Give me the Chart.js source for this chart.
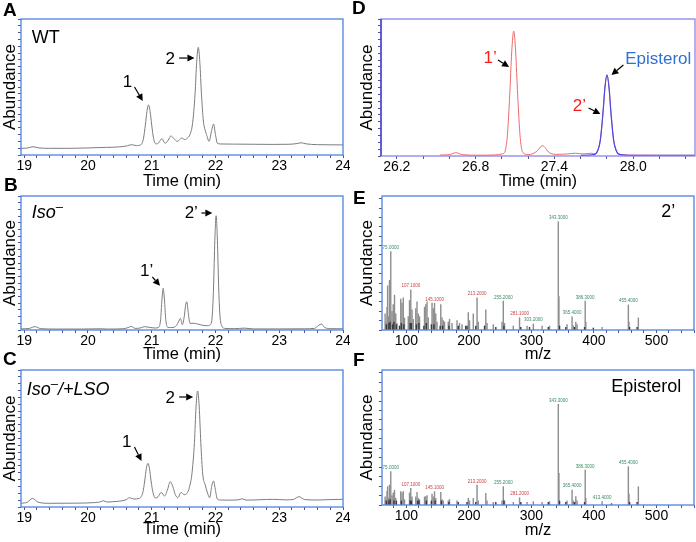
<!DOCTYPE html>
<html><head><meta charset="utf-8">
<script src="https://cdn.jsdelivr.net/npm/chart.js@4.4.1/dist/chart.umd.min.js"></script>
<style>
body{margin:0;width:696px;height:542px;background:#fff;position:relative;overflow:hidden}
canvas{position:absolute}
</style></head><body>
<canvas id="cA" style="left:0;top:0" width="350" height="191"></canvas>
<canvas id="cB" style="left:0;top:177px" width="350" height="187"></canvas>
<canvas id="cC" style="left:0;top:352px" width="350" height="187"></canvas>
<canvas id="cD" style="left:350px;top:0" width="346" height="191"></canvas>
<canvas id="cE" style="left:350px;top:177px" width="346" height="187"></canvas>
<canvas id="cF" style="left:350px;top:352px" width="346" height="188"></canvas>
<script>
// chromatograms: [time (min), abundance]
const traceA = [[18.95,4.9],[19.05,5.1],[19.14,6.1],[19.23,5.2],[19.4,4.9],[19.66,4.9],[20.0,5.2],[20.29,5.6],[20.5,6.0],[20.62,6.8],[20.68,7.6],[20.76,6.9],[20.83,7.5],[20.87,12],[20.9,22],[20.925,32],[20.95,36.8],[20.975,32],[21.0,22],[21.03,12],[21.07,8.1],[21.11,9],[21.16,12],[21.21,8.6],[21.26,11],[21.3,14],[21.35,12],[21.4,10],[21.47,12.5],[21.52,11.3],[21.56,12.5],[21.6,15],[21.64,23],[21.68,45],[21.705,68],[21.73,79.2],[21.755,68],[21.78,45],[21.81,25],[21.83,19.6],[21.86,15],[21.9,10],[21.935,17],[21.97,22.8],[22.0,15],[22.03,8.6],[22.08,8.1],[22.3,8.0],[22.6,7.9],[22.9,7.8],[23.15,7.9],[23.28,8.4],[23.34,9],[23.42,8.2],[23.6,7.6],[23.8,7.5],[24.0,7.4]];
const traceB = [[18.95,0.8],[19.08,1.2],[19.17,2.5],[19.26,1.0],[19.5,0.7],[19.9,0.7],[20.2,0.9],[20.3,0.7],[20.55,0.9],[20.63,1.8],[20.68,2.7],[20.74,1.2],[20.82,1.5],[20.89,2.5],[20.96,2.0],[21.05,1.5],[21.11,2.0],[21.14,8],[21.16,22.4],[21.18,31.1],[21.2,22.4],[21.22,8],[21.25,2.0],[21.3,1.8],[21.37,2.5],[21.42,6],[21.45,8.7],[21.48,4],[21.51,10],[21.53,18],[21.55,21.1],[21.575,12],[21.6,5],[21.65,5],[21.72,4.5],[21.8,3.5],[21.87,3.2],[21.92,4],[21.95,11],[21.97,32],[21.99,67],[22.01,85.3],[22.03,67],[22.05,32],[22.07,11],[22.1,3],[22.15,1.2],[22.3,1.0],[22.45,1.4],[22.6,0.8],[23.0,0.8],[23.4,0.9],[23.55,1.2],[23.62,3.5],[23.66,4.5],[23.71,2],[23.8,1.0],[24.0,0.9]];
const traceC = [[18.95,2.7],[19.05,3.5],[19.13,6.3],[19.22,3.5],[19.4,2.7],[19.8,2.8],[20.1,3.2],[20.2,3.8],[20.24,4.6],[20.3,3.6],[20.39,3.9],[20.5,4.3],[20.6,5.3],[20.65,6.8],[20.72,5.8],[20.8,6.2],[20.86,10.5],[20.89,19],[20.915,28],[20.94,31.9],[20.965,28],[20.99,19],[21.02,10.5],[21.06,6.5],[21.1,7.5],[21.15,10.7],[21.2,8],[21.25,13],[21.29,18.5],[21.33,15],[21.37,9],[21.41,6.8],[21.46,10.7],[21.51,9],[21.56,10.5],[21.6,16],[21.63,24],[21.67,47],[21.695,73],[21.72,84.7],[21.745,73],[21.77,47],[21.8,24],[21.84,16],[21.87,11],[21.91,6.8],[21.94,15],[21.97,19],[22.0,12],[22.03,5.8],[22.08,5.1],[22.2,5.0],[22.35,5.2],[22.42,6],[22.48,5.0],[22.7,5.3],[22.9,5.6],[23.1,5.2],[23.22,5.5],[23.31,7.5],[23.4,5.4],[23.6,5.1],[23.8,5.4],[24.0,5.6]];
const traceD = [[26.53,0.7],[26.6,1.0],[26.65,2.4],[26.7,1.0],[26.8,0.6],[26.95,0.8],[27.0,1.5],[27.02,2.5],[27.04,13],[27.06,45],[27.075,76],[27.09,91.2],[27.105,76],[27.12,45],[27.14,13],[27.16,2.5],[27.2,1.0],[27.26,3],[27.31,7.5],[27.36,2.5],[27.42,1.2],[27.5,1.5],[27.56,2.0],[27.62,1.5],[27.68,2.0],[27.71,1.5],[27.73,4],[27.75,12],[27.77,32],[27.785,50.6],[27.8,59.1],[27.815,50.6],[27.83,32],[27.85,12],[27.87,4],[27.9,1.2],[28.0,0.6],[28.2,0.5],[28.47,0.5]];
const traceEpi = [[27.6,0.5],[27.7,1],[27.73,4],[27.75,12],[27.77,32],[27.785,50.6],[27.8,59.3],[27.815,50.6],[27.83,32],[27.85,12],[27.87,4],[27.9,1],[28.0,0.5],[28.47,0.5]];

// mass spectra: [m/z, abundance]
const spec2p = [[66,12],[67,6],[69,17],[70,33],[71,10],[73,37],[75,58.5],[77,14],[79,19],[81,26],[82,8],[83,12],[85,5],[91,23],[93,20],[95,24],[97,9],[103,10],[105,22],[107,30],[109,15],[111,8],[115,16],[117,21],[119,12],[121,10],[129,17],[131,19],[133,21],[135,9],[141,20],[143,16],[145,20],[147,12],[149,6],[155,19],[157,9],[159,7],[161,6],[167,6],[169,8],[173,5],[181,7],[185,5],[189,4],[199,13],[201,7],[207,12],[213,24],[215,6],[227,15],[229,5],[239,4],[253,6],[255,21.6],[257,5],[271,3],[281,9.2],[293,3],[303,4.5],[317,3],[329,3],[343,80.8],[344,25],[357,4],[365,9.9],[367,3],[371,6],[373,4],[386,21.6],[387,6],[413,2],[455,18.7],[456,6],[471,9]];
const spec2pMinor = [[68,4],[72,5],[74,6],[78,4],[80,6],[84,4],[89,3],[92,5],[96,4],[106,5],[108,5],[116,4],[120,5],[128,3],[132,5],[140,4],[144,4],[154,3],[158,3],[168,3],[183,3],[195,3],[197,3],[211,3],[225,3],[243,2],[256,3],[283,2],[297,2],[327,2],[345,3],[355,2],[369,2],[385,2],[399,1.5],[457,2],[469,2]];
const specEpi = [[66,6],[67,4],[69,10],[70,13.6],[71,5],[73,14.8],[75,24.7],[77,7],[79,9],[81,11],[83,5],[91,10],[93,9],[95,10],[97,4],[105,9],[107,12.3],[109,6],[115,6],[117,9.3],[119,5],[121,4],[129,6],[131,6.3],[133,7],[141,8],[143,6],[145,9.9],[147,5],[155,9.3],[157,4],[159,3],[167,3],[169,4],[181,3],[199,5],[201,3],[207,5],[213,14.8],[215,3],[227,8.6],[229,3],[239,2],[253,3],[255,13.6],[257,3],[271,2],[281,5.4],[293,2],[303,2.5],[317,2],[329,2.5],[343,74.6],[344,23.5],[357,3],[365,11.1],[367,3],[371,6.3],[373,3],[386,25.9],[387,5],[413,2.5],[455,28.4],[456,8],[471,13.6]];
const specEpiMinor = [[68,3],[72,3],[74,4],[80,3],[84,3],[92,3],[106,3],[108,3],[118,3],[120,3],[132,3],[140,3],[146,3],[156,3],[168,2],[183,2],[197,2],[211,2],[243,2],[256,3],[283,2],[327,2],[345,3],[355,2],[369,2],[385,2],[428,1],[457,2],[469,2]];

// peak labels: [m/z, text, colour]
const peaks2p = [[75,'75.0000','#3c8c64'],[107,'107.1000','#c84646'],[145,'145.1000','#c84646'],[213,'213.2000','#c84646'],[255,'255.2000','#3c8c64'],[281,'281.1000','#c84646'],[303,'303.2000','#3c8c64'],[343,'343.3000','#3c8c64'],[365,'365.4000','#3c8c64'],[386,'386.3000','#3c8c64'],[455,'455.4000','#3c8c64']];
const peaksEpi = [[75,'75.0000','#3c8c64'],[107,'107.1000','#c84646'],[145,'145.1000','#c84646'],[213,'213.2000','#c84646'],[255,'255.2000','#3c8c64'],[281,'281.2000','#c84646'],[343,'343.3000','#3c8c64'],[365,'365.4000','#3c8c64'],[386,'386.3000','#3c8c64'],[413,'413.4000','#3c8c64'],[455,'455.4000','#3c8c64']];

const timeTicks = [19, 20, 21, 22, 23, 24];
const timeTicksD = [26.2, 26.8, 27.4, 28.0];
const mzTicks = [100, 200, 300, 400, 500];

const FONT = "'Liberation Sans', Arial, sans-serif";
Chart.defaults.font.family = FONT;
Chart.defaults.color = '#000';

function arrow(ctx, x1, y1, x2, y2, col) {
  const a = Math.atan2(y2 - y1, x2 - x1), L = 7, W = 3.5;
  ctx.strokeStyle = col; ctx.fillStyle = col; ctx.lineWidth = 1.2;
  ctx.beginPath(); ctx.moveTo(x1, y1);
  ctx.lineTo(x2 - L * Math.cos(a), y2 - L * Math.sin(a)); ctx.stroke();
  ctx.beginPath(); ctx.moveTo(x2, y2);
  ctx.lineTo(x2 - L * Math.cos(a) + W * Math.sin(a), y2 - L * Math.sin(a) - W * Math.cos(a));
  ctx.lineTo(x2 - L * Math.cos(a) - W * Math.sin(a), y2 - L * Math.sin(a) + W * Math.cos(a));
  ctx.closePath(); ctx.fill();
}

const deco = {
  id: 'deco',
  afterDatasetsDraw(chart, args, o) {
    const {ctx, chartArea: a, scales: {x, y}} = chart;
    ctx.save();
    // peak labels over the spectrum sticks
    ctx.font = '4.5px ' + FONT; ctx.textAlign = 'center'; ctx.textBaseline = 'bottom';
    (o.peaks || []).forEach(p => {
      const v = o.spec.find(s => s[0] === p[0])[1];
      ctx.fillStyle = p[2];
      ctx.fillText(p[1], x.getPixelForValue(p[0]), y.getPixelForValue(v) - 1.5);
    });
    // frame
    ctx.lineWidth = 1.3;
    ctx.strokeStyle = o.box;
    ctx.strokeRect(a.left, a.top, a.right - a.left, a.bottom - a.top);
    if (o.leftCol) {
      ctx.strokeStyle = o.leftCol;
      ctx.beginPath(); ctx.moveTo(a.left, a.top); ctx.lineTo(a.left, a.bottom); ctx.stroke();
    }
    // texts (parts drawn left to right)
    (o.texts || []).forEach(t => {
      let px = x.getPixelForValue(t.x), py = y.getPixelForValue(t.y);
      ctx.fillStyle = t.color || '#000'; ctx.textBaseline = 'middle';
      if (t.align === 'center') {
        ctx.font = t.parts[0][1]; ctx.textAlign = 'center';
        ctx.fillText(t.parts[0][0], px, py);
        return;
      }
      ctx.textAlign = 'left';
      t.parts.forEach(p => {
        ctx.font = p[1];
        ctx.fillText(p[0], px, py + (p[2] || 0));
        px += ctx.measureText(p[0]).width;
      });
    });
    (o.arrows || []).forEach(r => arrow(ctx, x.getPixelForValue(r[0]), y.getPixelForValue(r[1]),
      x.getPixelForValue(r[2]), y.getPixelForValue(r[3]), '#000'));
    // panel letter
    ctx.font = 'bold 19px ' + FONT; ctx.textAlign = 'left'; ctx.textBaseline = 'middle'; ctx.fillStyle = '#000';
    ctx.fillText(o.letter[0], o.letter[1], o.letter[2]);
    ctx.restore();
  }
};

function makeChart(id, c) {
  const minor = [];
  const start = Math.ceil(c.xMin / c.minor - 1e-9);
  for (let i = start; i * c.minor <= c.xMax + 1e-9; i++) minor.push(+(i * c.minor).toFixed(4));
  const yt = [];
  for (let v = 0; v <= 100; v += c.yStep) yt.push(v);
  const axisCol = '#4a5590';
  return new Chart(document.getElementById(id), {
    type: c.type,
    data: {datasets: c.datasets},
    options: {
      responsive: false, animation: false, devicePixelRatio: 1,
      layout: {padding: c.pad},
      plugins: {legend: {display: false}, tooltip: {enabled: false}, deco: c.deco},
      scales: {
        x: {
          type: 'linear', min: c.xMin, max: c.xMax, offset: false,
          afterBuildTicks: ax => { ax.ticks = minor.map(v => ({value: v})); },
          ticks: {autoSkip: false, maxRotation: 0, padding: 0, font: {size: 14}, color: '#000',
            callback: v => c.xTicks.some(t => Math.abs(t - v) < 1e-6) ? c.fmt(v) : ''},
          grid: {drawOnChartArea: false, tickLength: 3, color: axisCol, offset: false},
          border: {display: false},
          title: {display: true, text: c.xTitle, font: {size: 16.5}, padding: 0, color: '#000'},
          afterFit: s => { s.height = c.xH; s.paddingLeft = 0; s.paddingRight = 0; }
        },
        y: {
          min: 0, max: 100,
          afterBuildTicks: ax => { ax.ticks = yt.map(v => ({value: v})); },
          ticks: {display: false},
          grid: {drawOnChartArea: false, tickLength: 3, color: axisCol},
          border: {display: false},
          title: {display: true, text: 'Abundance', font: {size: 17}, padding: 0, color: '#000'},
          afterFit: s => { s.width = c.yW; s.paddingTop = 0; s.paddingBottom = 0; }
        }
      }
    },
    plugins: [deco]
  });
}

const line = (tr, col, w) => ({data: tr.map(p => ({x: p[0], y: p[1]})), borderColor: col, borderWidth: w || 1,
  pointRadius: 0, fill: false, cubicInterpolationMode: 'monotone'});
const bars = (sp, col) => ({data: sp.map(p => ({x: p[0], y: p[1]})), backgroundColor: col, barThickness: 0.75, grouped: false});

const F18 = '18px ' + FONT, I18 = 'italic 18px ' + FONT, F17 = '17px ' + FONT, SUP = '13px ' + FONT;
const blueBox = '#4f82e2';

const chromBase = {type: 'line', xMin: 18.95, xMax: 24.0, xTicks: timeTicks, minor: 0.2, fmt: v => String(v),
  xTitle: 'Time (min)', yStep: 5, yW: 21};

makeChart('cA', Object.assign({}, chromBase, {
  datasets: [line(traceA, '#7c7c7c')], xH: 36, pad: {left: 0, right: 7, top: 19, bottom: 0},
  deco: {box: blueBox, letter: ['A', 3, 11],
    texts: [{x: 19.12, y: 86, parts: [['WT', F18]]},
      {x: 20.62, y: 53.7, align: 'center', parts: [['1', F17]]},
      {x: 21.29, y: 70.6, align: 'center', parts: [['2', F17]]}],
    arrows: [[20.73, 50, 20.86, 39.7], [21.43, 71.3, 21.67, 71.3]]}
}));

makeChart('cB', Object.assign({}, chromBase, {
  datasets: [line(traceB, '#7c7c7c')], xH: 34, pad: {left: 0, right: 7, top: 19, bottom: 0},
  deco: {box: blueBox, letter: ['B', 4, 9],
    texts: [{x: 19.12, y: 87.3, parts: [['Iso', I18], ['\u2013', SUP, -6]]},
      {x: 20.92, y: 44, align: 'center', parts: [['1\u2019', F17]]},
      {x: 21.62, y: 87.3, align: 'center', parts: [['2\u2019', F17]]}],
    arrows: [[21.01, 39.6, 21.13, 33], [21.78, 87.3, 21.95, 87.3]]}
}));

makeChart('cC', Object.assign({}, chromBase, {
  datasets: [line(traceC, '#7c7c7c')], xH: 32, pad: {left: 0, right: 7, top: 18, bottom: 0},
  deco: {box: blueBox, letter: ['C', 3, 8],
    texts: [{x: 19.04, y: 85.4, parts: [['Iso', I18], ['\u2013', SUP, -6], ['/+LSO', I18]]},
      {x: 20.61, y: 47.4, align: 'center', parts: [['1', F17]]},
      {x: 21.29, y: 79.6, align: 'center', parts: [['2', F17]]}],
    arrows: [[20.73, 43.8, 20.84, 33.6], [21.43, 80.3, 21.65, 80.3]]}
}));

makeChart('cD', {
  type: 'line', xMin: 26.08, xMax: 28.47, xTicks: timeTicksD, minor: 0.2, fmt: v => v.toFixed(1),
  xTitle: 'Time (min)', yStep: 5, yW: 24, xH: 35, pad: {left: 7, right: 1, top: 19, bottom: 0},
  datasets: [line(traceEpi, '#4a4ae6', 1.2), line(traceD, '#f06a6a')],
  deco: {box: '#8a86ea', leftCol: '#3434c8', letter: ['D', 2, 9],
    texts: [{x: 26.91, y: 71.5, align: 'center', color: '#ff1a1a', parts: [['1\u2019', F17]]},
      {x: 28.19, y: 70.8, align: 'center', color: '#2f6fd6', parts: [['Episterol', F17]]},
      {x: 27.59, y: 36.5, align: 'center', color: '#ff1a1a', parts: [['2\u2019', F17]]}],
    arrows: [[26.97, 70.1, 27.055, 65], [27.925, 66.4, 27.834, 59.1], [27.66, 35, 27.75, 30.7]]}
});

const specBase = {type: 'bar', xMin: 61, xMax: 560, xTicks: mzTicks, minor: 20, fmt: v => String(v),
  xTitle: 'm/z', yStep: 7, yW: 25};

makeChart('cE', Object.assign({}, specBase, {
  datasets: [bars(spec2pMinor, '#3a3a3a'), bars(spec2p, '#8e8e8e')], xH: 34,
  pad: {left: 7, right: 2, top: 19, bottom: 0},
  deco: {box: blueBox, letter: ['E', 3, 22], peaks: peaks2p, spec: spec2p,
    texts: [{x: 518.7, y: 88, align: 'center', parts: [['2\u2019', F18]]}]}
}));

makeChart('cF', Object.assign({}, specBase, {
  datasets: [bars(specEpiMinor, '#3a3a3a'), bars(specEpi, '#8e8e8e')], xH: 35,
  pad: {left: 7, right: 2, top: 18, bottom: 0},
  deco: {box: blueBox, letter: ['F', 3, 9], peaks: peaksEpi, spec: specEpi,
    texts: [{x: 483.5, y: 87.4, align: 'center', parts: [['Episterol', F18]]}]}
}));
</script>
</body></html>
